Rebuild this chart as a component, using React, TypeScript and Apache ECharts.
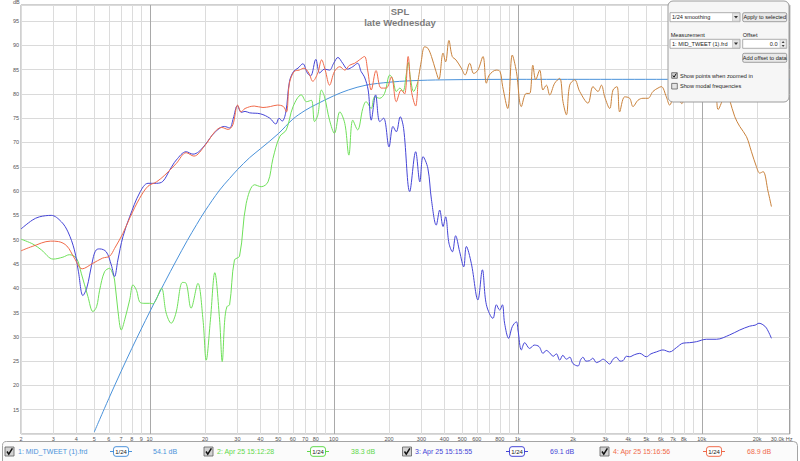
import React, { useEffect, useRef } from "react";
import * as echarts from "echarts";

// ---------- data (frequency in Hz, level in dB) ----------
const midTweet: [number, number][] = [
  [5, 10.4], [6, 17.3], [7, 22.9], [8, 27.6], [9, 31.6], [10, 35.1], [12, 41], [14, 45.8], [16, 49.8],
  [18, 53.1], [20, 55.9], [24, 60.2], [27.2, 62.6], [30, 64.4], [35, 66.9], [40, 68.7], [50, 71.8],
  [60, 74.8], [70, 76.6], [80, 77.8], [100, 79.6], [120, 80.8], [150, 81.8], [200, 82.4], [260, 82.7],
  [400, 82.9], [1000, 83], [30000, 83],
];

const apr25_151228Low: [number, number][] = [
  [2, 50.1], [2.32, 49.1], [2.58, 47.9], [2.99, 46], [3.38, 46.4], [3.66, 46.9], [4.0, 46.2], [4.25, 43.1],
  [4.62, 38.3], [4.92, 35.2], [5.15, 36.2], [5.35, 39.6], [5.69, 43.4], [6.06, 44.1], [6.3, 43], [6.45, 41.7],
  [6.72, 35.5], [7.02, 31.4], [7.32, 33.5], [7.79, 37.6], [8.12, 40.7], [8.5, 39.5], [8.82, 37.2], [9.3, 36.9],
  [10, 36.9], [10.4, 36.8], [10.8, 37.5], [11.6, 40], [12.3, 34.9], [13.1, 32.8], [13.9, 34.9], [15.1, 41.2],
  [15.8, 41], [16.8, 35.9], [18.3, 41], [19.5, 33.5], [20.3, 25.2], [21.4, 33.5], [22.6, 43.2], [24.0, 33.5],
  [24.8, 24.9], [25.6, 33.5], [26.3, 36.2], [27.2, 36.6], [28.9, 45.8], [30.8, 46.6], [33.5, 57.5], [37.2, 61.3],
  [40.4, 60.9], [44, 61.9], [46.8, 66.7], [50.9, 71.2], [55.3, 72.6], [60.2, 77.4], [66.7, 79.8], [71.2, 78.4],
  [75.7, 78.7], [78.7, 74.3], [82.1, 75.7], [85.8, 80.8], [89.2, 79.4], [95, 74.6], [101, 71.9], [108, 76.3],
  [115, 73.9], [121, 67.4], [127, 74.6], [135, 72.6], [144, 77], [150, 78.4], [160, 77], [167, 79.4],
  [178, 79.1], [189, 80.1], [202, 83.9], [210, 82.9], [219, 80.5], [229, 81.2], [238, 80.5], [248, 84],
  [254, 86.5], [262, 83], [272, 80.5],
];

const apr25_151555: [number, number][] = [
  [2, 52.2], [2.3, 54], [2.52, 54.7], [2.92, 55], [3.31, 53.7], [3.6, 51.6], [3.9, 47.9], [4.1, 43.5],
  [4.34, 38.5], [4.55, 40], [4.72, 42.7], [4.95, 46.5], [5.13, 47.9], [5.35, 48.1], [5.81, 47.5], [6.19, 44.8],
  [6.45, 42.4], [6.72, 45.8], [7.16, 50.6], [7.79, 54.7], [8.82, 59.6], [9.8, 61.6], [10.9, 61.6], [11.8, 62],
  [12.85, 64.3], [13.97, 66.4], [15.8, 68.1], [17.2, 67.6], [18.5, 68.1], [20, 69.5], [22.5, 72], [25.5, 73.3],
  [27.2, 73], [28.5, 75], [30, 77.6], [31.5, 76.2], [33, 76.4], [35, 76.1], [40, 75.9], [45, 75], [48.5, 73.8],
  [50.5, 75], [52.5, 74.4], [55, 76.3], [57.5, 82.5], [60.5, 84.6], [64, 85.3], [68, 86.2], [72, 84.3],
  [75, 83.7], [80, 87.1], [84, 84.3], [89, 85.1], [95, 84.9], [100, 86.3], [105.5, 87.5], [112, 86.3],
  [119, 85.1], [127, 85.6], [135, 86.3], [141, 84.6], [147, 83.5], [154, 80.8], [160, 74.6], [169, 79.8],
  [178, 74.3], [187, 75], [200, 69.1], [210, 73.3], [219, 72.2], [230, 75.3], [240, 72.9], [259, 59.9],
  [279, 68.1], [294, 61.9], [306, 67.1], [325, 64.7], [340, 58.2], [361, 53], [377, 56.1], [393, 52.7],
  [406, 54.7], [423, 49.3], [442, 47.5], [460, 50.8], [484, 47.5], [509, 44.4], [526, 48.6], [560, 45.1],
  [608, 37.6], [643, 43.8], [676, 36.6], [734, 33.8], [766, 36.6], [798, 35.5], [826, 36.6], [849, 32.8],
  [893, 29.7], [935, 32.1], [984, 33.1], [1004, 31.4], [1047, 27.3], [1092, 28.8], [1162, 27.6], [1230, 28.3],
  [1306, 28], [1374, 26.6], [1430, 27.2], [1493, 26.7], [1560, 26], [1623, 26.5], [1692, 25.2], [1760, 26.2],
  [1840, 25.4], [1920, 25.8], [1997, 24.5], [2127, 24], [2200, 25.3], [2264, 25.8], [2350, 25], [2462, 25.1],
  [2560, 25.6], [2679, 24.7], [2800, 25], [2911, 25.4], [3020, 25], [3162, 24.4], [3300, 25.4], [3438, 25.8],
  [3600, 25], [3737, 25.1], [3900, 26], [4061, 25.9], [4300, 26.3], [4603, 26.6], [5003, 25.9], [5300, 26.5],
  [5673, 26.9], [6163, 27.3], [6698, 26.9], [7300, 27.8], [7914, 28.7], [8606, 28.8], [9356, 29], [10610, 29.5],
  [12020, 29.5], [14200, 30.4], [16100, 31.4], [18240, 32.2], [19500, 32.4], [20480, 32.8], [21500, 32.5],
  [22490, 31.8], [23930, 29.7],
];

const apr25_151656Low: [number, number][] = [
  [2, 47.7], [2.3, 48.6], [2.9, 49.7], [3.2, 49.6], [3.55, 48.7], [3.9, 46.2], [4.3, 44], [4.9, 45.1],
  [5.55, 46.2], [6.06, 46.6], [6.45, 48.2], [7.16, 51.3], [7.85, 54.7], [8.82, 58.5], [9.8, 61], [10.9, 61.9],
  [12.1, 63.3], [13.97, 65.7], [15.8, 67.9], [17.4, 67.2], [19.9, 69.3], [22.6, 72.2], [24.6, 73.1],
  [26.7, 72.7], [28.3, 73.6], [30.1, 77.7], [31.4, 76.3], [33, 77], [37, 77.5], [41.3, 77.2], [45.3, 77.4],
  [49.5, 77.7], [53.3, 77.4], [55.4, 76.3], [57.5, 82.2], [61, 84.6], [65, 84.9], [69, 85.3], [73.3, 84.3],
  [77, 82.6], [82, 84.3], [86, 87], [90, 84.9], [95, 81.8], [101, 84.6], [108, 85.6], [115, 84.9], [122, 85.9],
  [130, 86.3], [138, 87], [147, 87.7], [153, 84.9], [160, 80.8], [170, 84.8], [181, 81.2], [193, 81.2],
  [206, 83.5], [219, 78.4], [233, 80.8], [243, 80], [254, 87.7], [264, 80.8], [279, 77.5],
];

// measurements 2 and 4 are identical above ~287 Hz (drawn where they overlap)
const sharedHigh: [number, number][] = [
  [287, 82.5], [299, 86.6], [312, 89.7], [325, 89.4], [340, 87.7], [358, 84.9], [373, 83], [393, 88.4],
  [406, 86.6], [423, 91], [441, 87.7], [462, 87], [494, 85.3], [518, 83.9], [549, 86.3], [577, 84.2],
  [608, 84.9], [648, 87.7], [676, 82.2], [702, 83.9], [765, 84.9], [802, 84.6], [829, 81.5], [883, 77],
  [935, 88], [984, 84.6], [1047, 77.4], [1113, 80.1], [1162, 80.1], [1209, 85.9], [1253, 82.9], [1317, 84.9],
  [1372, 80.8], [1432, 81.8], [1493, 79.8], [1589, 82.2], [1692, 83.2], [1763, 78.4], [1840, 75.7],
  [1917, 81.8], [2041, 82.9], [2173, 80.5], [2410, 78.1], [2566, 81.5], [2731, 80.5], [2851, 81.8],
  [2971, 79.4], [3162, 77], [3296, 80.8], [3465, 81.5], [3583, 76.3], [3815, 79.4], [4061, 79.1], [4234, 77.4],
  [4507, 78.7], [4797, 79.1], [5106, 79.1], [5435, 80.5], [5785, 81.2], [6037, 81.5], [6426, 79.4],
  [6698, 77.7], [7200, 80.5], [7800, 78], [8400, 82], [9000, 79.5], [9700, 82.5], [10400, 79], [11200, 81],
  [11900, 80], [12280, 76.8], [13070, 79], [13680, 80.5], [14200, 78.7], [15130, 75.3], [16100, 73.3],
  [17510, 71.2], [18640, 68.1], [19840, 65], [20680, 63.7], [21560, 64], [22950, 59.9], [23930, 56.8],
];

const xTickValues = [2, 3, 4, 5, 6, 7, 8, 9, 10, 20, 30, 40, 50, 60, 70, 80, 90, 100, 200, 300, 400, 500, 600, 700,
  800, 900, 1000, 2000, 3000, 4000, 5000, 6000, 7000, 8000, 9000, 10000, 20000, 30000];
const xTickLabels = ["2", "3", "4", "5", "6", "7", "8", "9", "10", "20", "30", "40", "50", "60", "70", "80", "",
  "100", "200", "300", "400", "500", "600", "", "800", "", "1k", "2k", "3k", "4k", "5k", "6k", "7k", "8k", "",
  "10k", "20k", "30.0k"];
const xUnit = "Hz";

const legendNames = ["1: MID_TWEET (1).frd", "2: Apr 25 15:12:28", "3: Apr 25 15:15:55", "4: Apr 25 15:16:56"];
const legendLevels = ["54.1 dB", "38.3 dB", "69.1 dB", "68.9 dB"];
const smoothingLabel = "1/24";

const Y_MIN = 10;
const Y_MAX = 98.3;

// ---------- styling ----------
const C1 = "#4a92da";
const C2 = "#6fe05a";
const C3 = "#4545d6";
const C4 = "#f06a4a";
const CMIX = "#c9823c";
const FONT = '"Liberation Sans", Arial, sans-serif';
const LEGEND_COLORS = [C1, "#5fd84a", C3, C4];

function txt(x: number, y: number, text: string, size: number, fill: string, align = "left", weight = "normal") {
  return {
    type: "text",
    x,
    y,
    z: 100,
    style: {
      text,
      fill,
      font: `${weight} ${size}px ${FONT}`,
      textAlign: align,
      textVerticalAlign: "middle",
    },
  };
}

function checkbox(x: number, y: number, s: number, checked: boolean) {
  const els: any[] = [
    {
      type: "rect",
      z: 100,
      shape: { x, y, width: s, height: s },
      style: { fill: checked ? "#d2d2d2" : "#e4e4e4", stroke: "#606060", lineWidth: 0.8 },
    },
  ];
  if (checked) {
    els.push({
      type: "polyline",
      z: 101,
      shape: { points: [[x + s * 0.22, y + s * 0.5], [x + s * 0.42, y + s * 0.8], [x + s * 0.82, y + s * 0.15]] },
      style: { stroke: "#111", lineWidth: s > 7 ? 1.5 : 1, fill: "none" },
    });
  }
  return els;
}

function buildLegend() {
  const cy = 451.5;
  const cbX = [5, 204, 402.5, 600];
  const textX = [18, 217, 415, 613];
  const boxX = [110, 307, 506, 703];
  const dbX = [153, 351, 550, 747];
  const els: any[] = [
    {
      type: "rect",
      z: 90,
      shape: { x: 2.5, y: 441.5, width: 795, height: 24, r: 4 },
      style: { fill: "#fbfbfb", stroke: "#a4a4a4", lineWidth: 1 },
    },
  ];
  for (let i = 0; i < 4; i++) {
    const col = LEGEND_COLORS[i];
    els.push(...checkbox(cbX[i], cy - 4.5, 9, true));
    els.push(txt(textX[i], cy, legendNames[i], 7, col));
    els.push({ type: "line", z: 100, shape: { x1: boxX[i], y1: cy, x2: boxX[i] + 22, y2: cy }, style: { stroke: col, lineWidth: 1 } });
    els.push({
      type: "rect",
      z: 101,
      shape: { x: boxX[i] + 3.5, y: cy - 4.8, width: 15, height: 9.6, r: 2.5 },
      style: { fill: "#ffffff", stroke: col, lineWidth: 1 },
    });
    els.push({ ...txt(boxX[i] + 11, cy + 0.3, smoothingLabel, 6, "#222", "center"), z: 102 });
    els.push(txt(dbX[i], cy, legendLevels[i], 7, col));
  }
  return els;
}

function button(x: number, y: number, w: number, h: number, label: string) {
  return [
    {
      type: "rect",
      z: 100,
      shape: { x, y, width: w, height: h, r: 1.5 },
      style: { fill: "#e9e9e9", stroke: "#8c8c8c", lineWidth: 0.8 },
    },
    { ...txt(x + w / 2, y + h / 2 + 0.2, label, 5.6, "#222", "center"), z: 102 },
  ];
}

function dropdown(x: number, y: number, w: number, h: number, label: string) {
  return [
    { type: "rect", z: 100, shape: { x, y, width: w, height: h }, style: { fill: "#ffffff", stroke: "#9a9a9a", lineWidth: 0.8 } },
    { type: "rect", z: 101, shape: { x: x + w - 7.5, y: y + 0.5, width: 7, height: h - 1 }, style: { fill: "#e4e4e4", stroke: "#b0b0b0", lineWidth: 0.5 } },
    {
      type: "polygon",
      z: 102,
      shape: { points: [[x + w - 6, y + h / 2 - 1.2], [x + w - 2, y + h / 2 - 1.2], [x + w - 4, y + h / 2 + 1.3]] },
      style: { fill: "#333" },
    },
    { ...txt(x + 2, y + h / 2 + 0.2, label, 5.6, "#222"), z: 102 },
  ];
}

function buildPanel() {
  const els: any[] = [
    {
      type: "rect",
      z: 95,
      shape: { x: 668, y: 1, width: 121, height: 101, r: 5 },
      style: { fill: "#f6f6f6", stroke: "#9c9c9c", lineWidth: 1 },
    },
  ];
  els.push(...dropdown(670, 12.7, 70, 9, "1/24 smoothing"));
  els.push(...button(742.7, 12.7, 44, 9, "Apply to selected"));
  els.push(txt(670.7, 34.5, "Measurement", 5.6, "#222"));
  els.push(txt(742.7, 34.5, "Offset", 5.6, "#222"));
  els.push(...dropdown(670, 39.3, 70, 9, "1: MID_TWEET (1).frd"));
  els.push({ type: "rect", z: 100, shape: { x: 742.7, y: 39.3, width: 44, height: 9 }, style: { fill: "#ffffff", stroke: "#9a9a9a", lineWidth: 0.8 } });
  els.push({ ...txt(777.5, 43.9, "0.0", 5.6, "#222", "right"), z: 102 });
  els.push({ type: "rect", z: 101, shape: { x: 780, y: 39.8, width: 6.2, height: 8 }, style: { fill: "#ececec", stroke: "#b0b0b0", lineWidth: 0.5 } });
  els.push({ type: "polygon", z: 102, shape: { points: [[781.6, 43], [784.6, 43], [783.1, 41]] }, style: { fill: "#444" } });
  els.push({ type: "polygon", z: 102, shape: { points: [[781.6, 45], [784.6, 45], [783.1, 47]] }, style: { fill: "#444" } });
  els.push(...button(742.7, 53.3, 44, 9, "Add offset to data"));
  els.push(...checkbox(671.7, 72.7, 5.6, true));
  els.push(txt(680, 75.6, "Show points when zoomed in", 5.6, "#222"));
  els.push(...checkbox(671.7, 83.4, 5.6, false));
  els.push(txt(680, 86.3, "Show modal frequencies", 5.6, "#222"));
  return els;
}

function buildOption() {
  const lineBase = {
    type: "line",
    showSymbol: false,
    symbol: "none",
    smooth: 0.35,
    silent: true,
    z: 3,
  };
  const lastIdx = xTickValues.length - 1;

  return {
    animation: false,
    backgroundColor: "#ffffff",
    grid: {
      left: 21,
      right: 10.5,
      top: 5,
      bottom: 27,
      show: true,
      borderColor: "#a0a0a0",
      borderWidth: 1,
      backgroundColor: "transparent",
    },
    xAxis: {
      type: "log",
      logBase: 10,
      min: 2,
      max: 30000,
      axisLabel: { show: false },
      axisTick: { show: false },
      axisLine: { show: false },
      splitLine: { show: false },
    },
    yAxis: {
      type: "value",
      min: Y_MIN,
      max: Y_MAX,
      interval: 5,
      axisLabel: {
        showMinLabel: false,
        showMaxLabel: false,
        fontSize: 5.5,
        color: "#555",
        margin: 2,
        fontFamily: FONT,
      },
      axisTick: { show: false },
      axisLine: { show: false },
      splitLine: { show: true, lineStyle: { color: "#dadada", width: 1 } },
    },
    series: [
      {
        type: "custom",
        name: "frequency grid",
        silent: true,
        clip: false,
        z: 1,
        data: xTickValues.map((v, i) => [v, i]),
        encode: { x: 0 },
        renderItem: (params: any, api: any) => {
          const v = api.value(0);
          const i = api.value(1);
          const b = api.coord([v, Y_MIN]);
          const t = api.coord([v, Y_MAX]);
          const lg = Math.log10(v);
          const decade = Math.abs(lg - Math.round(lg)) < 1e-9;
          const x = Math.round(b[0]) + 0.5;
          const children: any[] = [
            {
              type: "line",
              shape: { x1: x, y1: b[1], x2: x, y2: t[1] },
              style: { stroke: decade ? "#a9a9a9" : "#dcdcdc", lineWidth: 1 },
            },
          ];
          const label = xTickLabels[i];
          if (label) {
            const isLast = i === lastIdx;
            children.push({
              type: "text",
              x: isLast ? b[0] + 3 : b[0],
              y: b[1] + 5,
              style: {
                text: isLast ? label + " " + xUnit : label,
                fill: "#555",
                font: `5.5px ${FONT}`,
                textAlign: isLast ? "right" : "center",
                textVerticalAlign: "middle",
              },
            });
          }
          return { type: "group", children };
        },
      },
      { ...lineBase, name: legendNames[0], data: midTweet, lineStyle: { color: C1, width: 1 }, itemStyle: { color: C1 } },
      {
        ...lineBase,
        name: legendNames[1],
        data: apr25_151228Low.concat([sharedHigh[0]]),
        lineStyle: { color: C2, width: 1 },
        itemStyle: { color: C2 },
      },
      { ...lineBase, name: legendNames[2], data: apr25_151555, lineStyle: { color: C3, width: 1 }, itemStyle: { color: C3 } },
      {
        ...lineBase,
        name: legendNames[3],
        data: apr25_151656Low.concat([sharedHigh[0]]),
        lineStyle: { color: C4, width: 1 },
        itemStyle: { color: C4 },
      },
      {
        ...lineBase,
        name: "2 + 4 (overlapping)",
        data: sharedHigh,
        lineStyle: { color: CMIX, width: 1 },
        itemStyle: { color: CMIX },
      },
    ],
    graphic: [
      txt(400, 11.7, "SPL", 9.5, "#7c7c7c", "center", "bold"),
      txt(400, 22.4, "late Wednesday", 9.5, "#7c7c7c", "center", "bold"),
      txt(13, 1.5, "dB", 5.5, "#555"),
      ...buildPanel(),
      ...buildLegend(),
    ],
  };
}

export default function App() {
  const ref = useRef<HTMLDivElement>(null);
  useEffect(() => {
    if (!ref.current) return;
    const chart = echarts.init(ref.current, null, { renderer: "svg" });
    chart.setOption(buildOption() as any);
    return () => chart.dispose();
  }, []);
  return (
    <div
      ref={ref}
      style={{ position: "fixed", left: 0, top: 0, width: 800, height: 461, background: "#ffffff" }}
    />
  );
}
